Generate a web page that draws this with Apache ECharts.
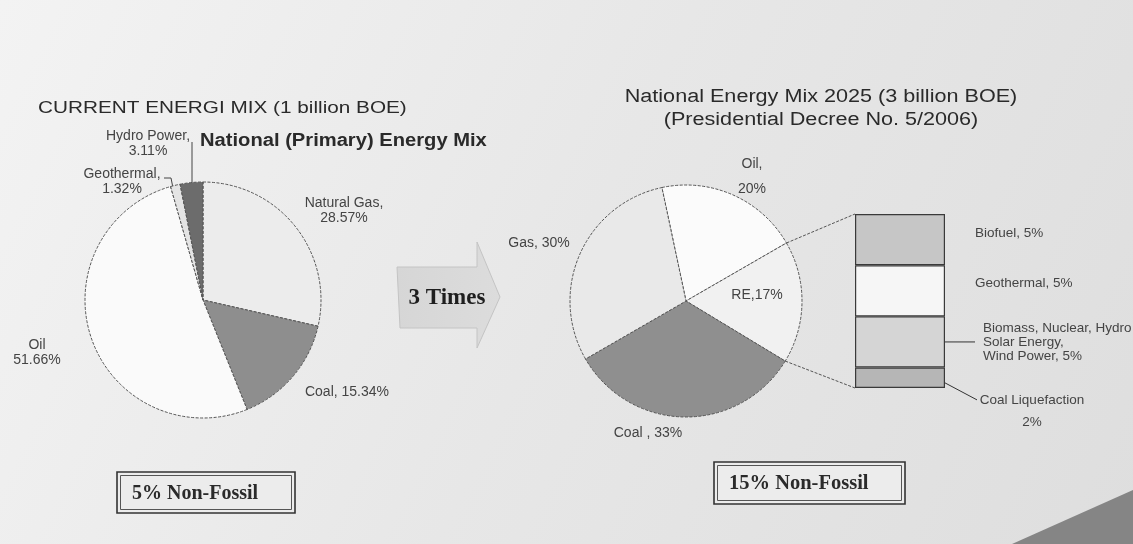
<!DOCTYPE html>
<html>
<head>
<meta charset="utf-8">
<script src="https://cdn.jsdelivr.net/npm/echarts@6/dist/echarts.min.js"></script>
<style>
html,body{margin:0;padding:0;background:#e8e8e8;}
#chart{width:1133px;height:544px;}
</style>
</head>
<body>
<div id="chart"></div>
<script>
// ---- data ----
const leftNames = ['Natural Gas', 'Coal', 'Oil', 'Geothermal', 'Hydro Power'];
const leftValues = [28.57, 15.34, 51.66, 1.32, 3.11];
const leftSeps = [',\n', ', ', '\n', ',\n', ',\n'];

const rightNames = ['Oil', 'RE', 'Coal', 'Gas'];
const rightValues = [20, 17, 33, 30];
const rightSeps = [',\n', ',', ' , ', ', '];

const reNames = ['Biofuel', 'Geothermal', 'Biomass, Nuclear, Hydro\nSolar Energy,\nWind Power', 'Coal Liquefaction'];
const reValues = [5, 5, 5, 2];
const reSeps = [', ', ', ', ', ', '\n'];

const titleLeft = 'CURRENT ENERGI MIX (1 billion BOE)';
const subtitleLeft = 'National (Primary) Energy Mix';
const titleRight1 = 'National Energy Mix 2025 (3 billion BOE)';
const titleRight2 = '(Presidential Decree No. 5/2006)';
const arrowText = '3 Times';
const boxLeftText = '5% Non-Fossil';
const boxRightText = '15% Non-Fossil';

// ---- styles / layout (not data) ----
const leftColors = ['#ececec', '#8e8e8e', '#fafafa', '#e4e4e4', '#6c6c6c'];
const rightColors = ['#fbfbfb', '#f1f1f1', '#8f8f8f', '#e9e9e9'];
const reColors = ['#c6c6c6', '#f6f6f6', '#d5d5d5', '#b6b6b6'];
const leftLabelPos = [[344, 211], [347, 392], [37, 353], [122, 182], [148, 144]];
const rightLabelPos = [[752, 177], [757, 295], [648, 433], [539, 243]];
const SANS = '"Liberation Sans", Arial, sans-serif';
const SERIF = '"Liberation Serif", "Times New Roman", serif';
const LC = [203, 300], LR = 118;
const RC = [686, 301], RR = 116;
const RSTART = 102;
const GRID = {left: 855, top: 214, width: 90, height: 174};

const chart = echarts.init(document.getElementById('chart'));

const pieBorder = {borderColor: '#555', borderWidth: 1, borderType: [3, 1.5]};

const leftData = leftNames.map((n, i) => ({
  name: n, value: leftValues[i],
  itemStyle: Object.assign({color: leftColors[i]}, pieBorder),
  labelLine: {show: i >= 3, lineStyle: {color: '#444', width: 1}}
}));
const rightData = rightNames.map((n, i) => ({
  name: n, value: rightValues[i],
  itemStyle: Object.assign({color: rightColors[i]}, pieBorder)
}));

const reTotal = reValues.reduce((a, b) => a + b, 0);

const reSeries = reNames.map((n, i) => {
  const labelCfg = [
    {position: 'right', distance: 30, offset: [0, -6], align: 'left'},
    {position: 'right', distance: 30, offset: [0, -7], align: 'left'},
    {position: 'right', distance: 38, offset: [0, 0], align: 'left'},
    {position: 'right', distance: 87, offset: [0, 34], align: 'center'}
  ][i];
  return {
    type: 'bar', name: n, stack: 're', barWidth: '100%',
    data: [reValues[i]],
    itemStyle: {color: reColors[i], borderColor: '#3a3a3a', borderWidth: 1.2},
    label: Object.assign({
      show: true, color: '#444', fontFamily: SANS, fontSize: 13.5,
      lineHeight: i === 3 ? 22 : 14,
      formatter: () => n + reSeps[i] + reValues[i] + '%'
    }, labelCfg),
    silent: true, z: 3
  };
});

const option = {
  animation: false,
  grid: Object.assign({containLabel: false}, GRID),
  xAxis: {type: 'category', data: ['RE'], show: false},
  yAxis: {type: 'value', min: 0, max: reTotal, inverse: true, show: false},
  series: [
    {
      type: 'pie', center: LC, radius: LR, startAngle: 90, clockwise: true,
      data: leftData, silent: true,
      label: {
        show: true, position: 'outside', color: '#444', fontFamily: SANS,
        fontSize: 14, lineHeight: 15, overflow: 'none', edgeDistance: 0, bleedMargin: 0,
        formatter: p => leftNames[p.dataIndex] + leftSeps[p.dataIndex] + leftValues[p.dataIndex].toFixed(2) + '%'
      },
      labelLine: {show: false},
      labelLayout: p => {
        const pos = leftLabelPos[p.dataIndex];
        const r = {x: pos[0], y: pos[1], align: 'center', verticalAlign: 'middle'};
        if (p.dataIndex === 4) r.labelLinePoints = [[192, 142], [192, 164], [192, 186]];
        if (p.dataIndex === 3) r.labelLinePoints = [[164, 178], [171, 178], [173, 188]];
        return r;
      }
    },
    {
      type: 'pie', center: RC, radius: RR, startAngle: RSTART, clockwise: true,
      data: rightData, silent: true,
      label: {
        show: true, position: 'outside', color: '#444', fontFamily: SANS,
        fontSize: 14, lineHeight: 25, overflow: 'none',
        formatter: p => rightNames[p.dataIndex] + rightSeps[p.dataIndex] + rightValues[p.dataIndex] + '%'
      },
      labelLine: {show: false},
      labelLayout: p => {
        const pos = rightLabelPos[p.dataIndex];
        return {x: pos[0], y: pos[1], align: 'center', verticalAlign: 'middle'};
      }
    }
  ].concat(reSeries),
  graphic: []
};
chart.setOption(option);

// ---- decorations computed from the drawn chart ----
const total = rightValues.reduce((a, b) => a + b, 0);
const a1 = (RSTART - 360 * rightValues[0] / total) * Math.PI / 180;
const a2 = (RSTART - 360 * (rightValues[0] + rightValues[1]) / total) * Math.PI / 180;
const p1 = [RC[0] + RR * Math.cos(a1), RC[1] - RR * Math.sin(a1)];
const p2 = [RC[0] + RR * Math.cos(a2), RC[1] - RR * Math.sin(a2)];
const yTop = chart.convertToPixel({yAxisIndex: 0}, 0);
const yBot = chart.convertToPixel({yAxisIndex: 0}, reTotal);
const yBio = chart.convertToPixel({yAxisIndex: 0}, reValues[0] + reValues[1] + reValues[2] / 2);
const yCoalLiq = chart.convertToPixel({yAxisIndex: 0}, reTotal - reValues[3] * 0.25);
const barL = GRID.left, barR = GRID.left + GRID.width;

function box(x, y, w, h, text, fs) {
  return {
    type: 'group', children: [
      {type: 'rect', shape: {x: x, y: y, width: w, height: h}, style: {fill: '#ececec', stroke: '#333', lineWidth: 1.6}},
      {type: 'rect', shape: {x: x + 3.5, y: y + 3.5, width: w - 7, height: h - 7}, style: {fill: 'none', stroke: '#555', lineWidth: 1}},
      {type: 'text', x: x + 15, y: y + h / 2 + 1, style: {text: text, fill: '#2a2a2a', font: 'bold ' + fs + 'px ' + SERIF, textVerticalAlign: 'middle', textAlign: 'left'}}
    ]
  };
}

chart.setOption({
  graphic: [
    {type: 'rect', z: -100, shape: {x: 0, y: 0, width: 1133, height: 544},
      style: {fill: new echarts.graphic.LinearGradient(0, 0, 1, 1, [
        {offset: 0, color: '#f3f3f3'}, {offset: 0.5, color: '#e7e7e7'}, {offset: 1, color: '#dedede'}])}},
    {type: 'polygon', z: -50, shape: {points: [[1012, 544], [1133, 490], [1133, 544]]},
      style: {fill: '#858585'}},
    {type: 'text', x: 38, y: 108, scaleX: 1.22, style: {text: titleLeft, fill: '#2a2a2a', font: '17px ' + SANS, textVerticalAlign: 'middle'}},
    {type: 'text', x: 200, y: 141, scaleX: 1.12, style: {text: subtitleLeft, fill: '#2a2a2a', font: 'bold 18px ' + SANS, textVerticalAlign: 'middle'}},
    {type: 'text', x: 821, y: 97, scaleX: 1.2, style: {text: titleRight1, fill: '#2a2a2a', font: '18px ' + SANS, textAlign: 'center', textVerticalAlign: 'middle'}},
    {type: 'text', x: 821, y: 120, scaleX: 1.2, style: {text: titleRight2, fill: '#2a2a2a', font: '18px ' + SANS, textAlign: 'center', textVerticalAlign: 'middle'}},
    {type: 'polygon', z: 1, shape: {points: [[397, 267], [477, 267], [477, 242], [500, 297], [477, 348], [477, 328], [400, 328]]},
      style: {fill: new echarts.graphic.LinearGradient(0, 0, 1, 0, [
        {offset: 0, color: '#d6d6d6'}, {offset: 1, color: '#dcdcdc'}]), stroke: '#c4c4c4', lineWidth: 1}},
    {type: 'text', z: 2, x: 447, y: 298, style: {text: arrowText, fill: '#1e1e1e', font: 'bold 23px ' + SERIF, textAlign: 'center', textVerticalAlign: 'middle'}},
    {type: 'line', z: 5, shape: {x1: p1[0], y1: p1[1], x2: barL, y2: yTop}, style: {stroke: '#555', lineWidth: 1, lineDash: [3, 1.5]}},
    {type: 'line', z: 5, shape: {x1: p2[0], y1: p2[1], x2: barL, y2: yBot}, style: {stroke: '#555', lineWidth: 1, lineDash: [3, 1.5]}},
    {type: 'line', z: 5, shape: {x1: barR, y1: yBio, x2: barR + 30, y2: yBio}, style: {stroke: '#333', lineWidth: 1}},
    {type: 'line', z: 5, shape: {x1: barR, y1: yCoalLiq, x2: barR + 32, y2: yCoalLiq + 17}, style: {stroke: '#333', lineWidth: 1}},
    box(117, 472, 178, 41, boxLeftText, 20),
    box(714, 462, 191, 42, boxRightText, 20.5)
  ]
});
</script>
</body>
</html>
